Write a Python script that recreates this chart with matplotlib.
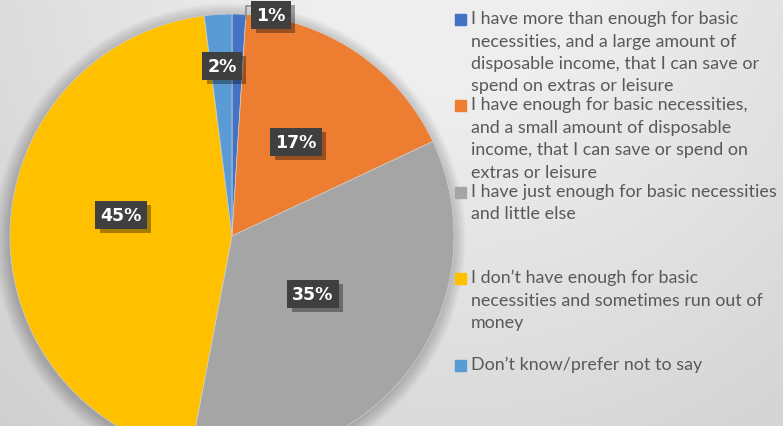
import numpy as np
import matplotlib
matplotlib.use("Agg")
import matplotlib.pyplot as plt
import matplotlib.patheffects as pe
from matplotlib.patches import Circle, Rectangle

# данные
labels = [
    "I have more than enough for basic\nnecessities, and a large amount of\ndisposable income, that I can save or\nspend on extras or leisure",
    "I have enough for basic necessities,\nand a small amount of disposable\nincome, that I can save or spend on\nextras or leisure",
    "I have just enough for basic necessities\nand little else",
    "I don\u2019t have enough for basic\nnecessities and sometimes run out of\nmoney",
    "Don\u2019t know/prefer not to say",
]
values = [1, 17, 35, 45, 2]
colors = ["#4472C4", "#ED7D31", "#A5A5A5", "#FFC000", "#5B9BD5"]

W, H = 783, 427
fig = plt.figure(figsize=(W / 100, H / 100), dpi=100)
ax = fig.add_axes([0, 0, 1, 1])
ax.axis("off")

# фон - серый градиент
yy, xx = np.mgrid[0:H, 0:W]
d = np.sqrt((xx - 450) ** 2 + (yy + 60) ** 2)
g = 0.935 - 0.13 * np.clip((d - 150) / 550, 0, 1)
ax.imshow(np.dstack([g, g, g]), extent=[0, W, 0, H], origin="upper", zorder=0)

cx, cy, r = 232, H - 237, 222

# мягкая тень под диаграммой
for k in range(10):
    ax.add_patch(Circle((cx - 2, cy - 3), r + k * 1.5, color="black",
                        alpha=0.022, lw=0, zorder=1))

wedges, _ = ax.pie(values, colors=colors, startangle=90, counterclock=False,
                   center=(cx, cy), radius=r,
                   wedgeprops=dict(linewidth=0.5, edgecolor="#d0d0d0"))
for w in wedges:
    w.set_zorder(2)
ax.set_xlim(0, W)
ax.set_ylim(0, H)
ax.set_aspect("auto")

# подписи процентов
label_pos = [(271, 16), (296, 143), (313, 295), (121, 216), (222, 67)]
for v, (px, py) in zip(values, label_pos):
    t = ax.text(px, H - py, f"{v}%", ha="center", va="center",
                fontsize=12.5, fontweight="bold", color="white", zorder=5,
                bbox=dict(boxstyle="square,pad=0.28", fc="#3f3f3f", ec="none"))
    t.get_bbox_patch().set_path_effects(
        [pe.SimplePatchShadow(offset=(3, -3), shadow_rgbFace="black", alpha=0.35),
         pe.Normal()])

# выноска для 1%
ax.plot([246, 246, 257], [H - 20, H - 7, H - 7], color="#8c8c8c", lw=1.2, zorder=4)

# легенда
legend_y = [21, 107, 194, 280, 367]
for lab, col, ly in zip(labels, colors, legend_y):
    ax.add_patch(Rectangle((455, H - ly - 5), 11, 11, color=col, zorder=3))
    ax.text(471, H - ly + 10, lab, ha="left", va="top", fontsize=12.9,
            family="Lato", color="#595959", linespacing=1.5, zorder=3)

fig.savefig("out.png", dpi=100)
